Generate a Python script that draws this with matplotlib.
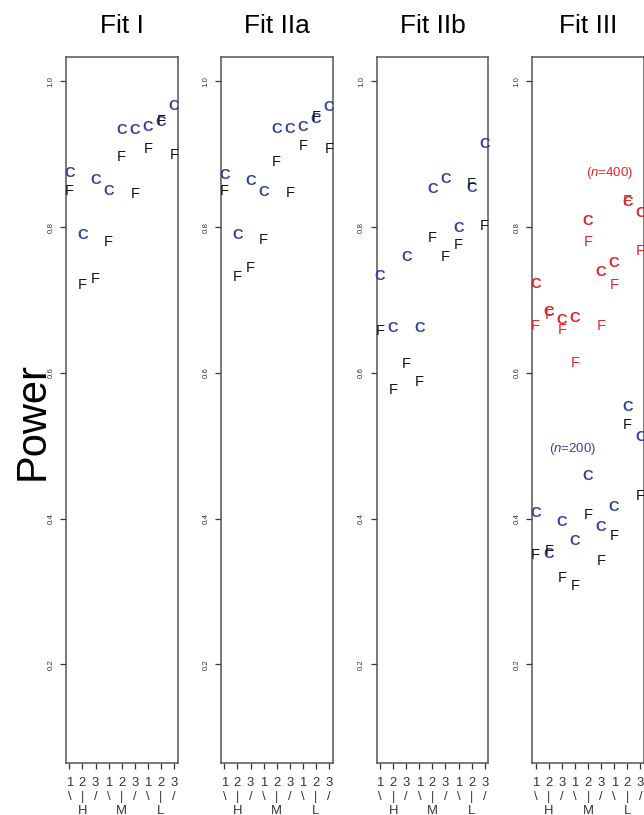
import matplotlib
matplotlib.use("Agg")
import matplotlib.pyplot as plt

plt.rcParams['font.family'] = ['Liberation Sans', 'DejaVu Sans']
plt.rcParams['mathtext.fontset'] = 'custom'
plt.rcParams['mathtext.rm'] = 'Liberation Sans'
plt.rcParams['mathtext.it'] = 'Liberation Sans:italic'

# settings 1..9 : (1,2,3) within H, M, L
positions = [1, 2, 3, 4, 5, 6, 7, 8, 9]
digits = ['1', '2', '3', '1', '2', '3', '1', '2', '3']
marks = ['\\', '|', '/', '\\', '|', '/', '\\', '|', '/']
groups = ['', 'H', '', '', 'M', '', '', 'L', '']

titles = ['Fit I', 'Fit IIa', 'Fit IIb', 'Fit III']

fit1_C = [0.875, 0.789, 0.865, 0.849, 0.933, 0.933, 0.937, 0.944, 0.967]
fit1_F = [0.849, 0.720, 0.729, 0.779, 0.897, 0.845, 0.907, 0.946, 0.899]
fit2a_C = [0.871, 0.789, 0.863, 0.848, 0.935, 0.935, 0.938, 0.948, 0.965]
fit2a_F = [0.849, 0.731, 0.744, 0.783, 0.889, 0.847, 0.912, 0.951, 0.907]
fit2b_C = [0.733, 0.661, 0.759, 0.661, 0.853, 0.866, 0.799, 0.854, 0.914]
fit2b_F = [0.657, 0.577, 0.612, 0.587, 0.785, 0.759, 0.776, 0.859, 0.801]
fit3_C_200 = [0.408, 0.352, 0.396, 0.369, 0.459, 0.388, 0.416, 0.553, 0.512]
fit3_F_200 = [0.350, 0.356, 0.318, 0.307, 0.405, 0.342, 0.376, 0.529, 0.431]
fit3_C_400 = [0.722, 0.683, 0.673, 0.675, 0.808, 0.739, 0.751, 0.835, 0.819]
fit3_F_400 = [0.664, 0.680, 0.659, 0.613, 0.779, 0.664, 0.721, 0.836, 0.767]

BLUE = '#33449c'
RED = '#e2222a'
BLACK = '#111111'


def put_letters(ax, xs, ys, letter, color, bold):
    for x, y in zip(xs, ys):
        ax.text(x, y, letter, color=color, fontsize=10.5, ha='center', va='center',
                fontweight='bold' if bold else 'normal')


fig = plt.figure(figsize=(6.44, 8.15), dpi=100)
W, H = 644.0, 815.0
lefts = [66, 221, 376.7, 532.3]
axes = []
for i, left in enumerate(lefts):
    ax = fig.add_axes([left / W, 1 - 762.7 / H, 111.7 / W, (762.7 - 56.7) / H])
    ax.set_xlim(0.74, 9.28)
    ax.set_ylim(0.065, 1.034)
    ax.set_xticks(positions)
    ax.set_xticklabels([d + '\n' + m + '\n' + g for d, m, g in zip(digits, marks, groups)],
                       fontsize=9.4, linespacing=1.22)
    ax.set_yticks([0.2, 0.4, 0.6, 0.8, 1.0])
    ax.set_yticklabels(['0.2', '0.4', '0.6', '0.8', '1.0'], fontsize=5.7, rotation=90, va='center')
    ax.tick_params(axis='x', length=4, width=0.9, pad=6.3, colors='#333333')
    ax.tick_params(axis='y', length=4, width=0.9, pad=4.3, colors='#333333')
    for s in ax.spines.values():
        s.set_color('#555555')
        s.set_linewidth(1.1)
    ax.set_title(titles[i], fontsize=19, pad=16.8)
    axes.append(ax)

put_letters(axes[0], positions, fit1_C, 'C', BLUE, True)
put_letters(axes[0], positions, fit1_F, 'F', BLACK, False)
put_letters(axes[1], positions, fit2a_C, 'C', BLUE, True)
put_letters(axes[1], positions, fit2a_F, 'F', BLACK, False)
put_letters(axes[2], positions, fit2b_C, 'C', BLUE, True)
put_letters(axes[2], positions, fit2b_F, 'F', BLACK, False)
put_letters(axes[3], positions, fit3_C_200, 'C', BLUE, True)
put_letters(axes[3], positions, fit3_F_200, 'F', BLACK, False)
put_letters(axes[3], positions, fit3_C_400, 'C', RED, True)
put_letters(axes[3], positions, fit3_F_400, 'F', RED, False)

axes[3].text(3.83, 0.496, r'($\mathit{n}$=200)', color=BLUE, fontsize=9.5, ha='center', va='center')
axes[3].text(6.68, 0.875, r'($\mathit{n}$=400)', color=RED, fontsize=9.5, ha='center', va='center')

fig.text(43.3 / W, 1 - 421 / H, 'Power', fontsize=30, rotation=90, rotation_mode='anchor',
         ha='center', va='baseline')

fig.savefig('out.png', dpi=100)
